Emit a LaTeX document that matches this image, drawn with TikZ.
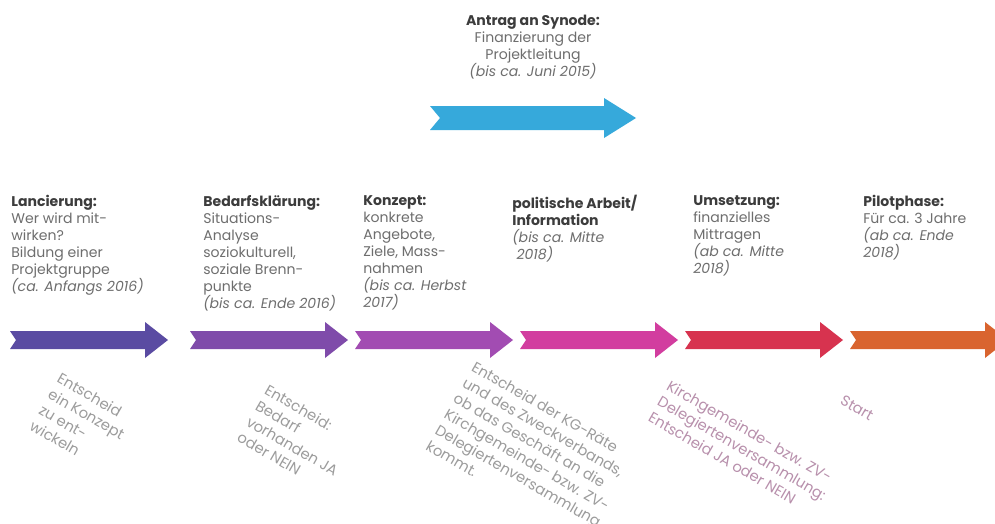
\documentclass[tikz,border=0pt]{standalone}
\usepackage{fontspec}
\setmainfont{Poppins}
\usetikzlibrary{positioning}
\definecolor{txtdark}{HTML}{3C3C3C}
\definecolor{txtgray}{HTML}{6E6E6E}
\definecolor{notegray}{HTML}{9C9C9C}
\definecolor{notepink}{HTML}{B890AC}
\definecolor{arrA}{HTML}{5A4BA2}
\definecolor{arrB}{HTML}{7F4BAA}
\definecolor{arrC}{HTML}{A24CB2}
\definecolor{arrD}{HTML}{D23D9F}
\definecolor{arrE}{HTML}{D7334F}
\definecolor{arrF}{HTML}{D9642F}
\definecolor{arrTop}{HTML}{36A9DB}

\begin{document}
\begin{tikzpicture}[x=0.02cm,y=-0.02cm,
  phase/.style={anchor=north west, align=left, inner sep=0pt, text=txtgray,
    font=\fontsize{8}{9.7}\selectfont},
  note/.style={align=left, inner sep=0pt, text=notegray, rotate=-30,
    font=\fontsize{8.4}{10.4}\selectfont}]
  \clip (0,0) rectangle (995,524);
  \fill[white] (0,0) rectangle (995,524);
  \fill[arrTop] (430,106)--(604,106)--(604,98)--(636,118)--(604,138)--(604,130)
  --(430,130)--(440,118)--cycle;
  \foreach \xa/\col in {10/arrA,190/arrB,355/arrC,520/arrD,685/arrE,850/arrF}
  \fill[\col] (\xa,331)--(\xa+135,331)--(\xa+135,322)--(\xa+158,340)
  --(\xa+135,358)--(\xa+135,349)--(\xa,349)--(\xa+6,340)--cycle;
  \node[phase, anchor=north, align=center] (synode) at (533,15)
  {{\bfseries\color{txtdark}Antrag an Synode:}\\Finanzierung der\\Projektleitung\\
  \textit{(bis ca. Juni 2015)}};
  \node[phase] (lanc) at (11,195) {{\bfseries\color{txtdark}Lancierung:}\\Wer wird mit-\\
  wirken?\\Bildung einer\\Projektgruppe\\\textit{(ca. Anfangs 2016)}};
  \node[phase] (bedarf) at (203,195) {{\bfseries\color{txtdark}Bedarfsklärung:}\\
  Situations-\\Analyse\\soziokulturell,\\soziale Brenn-\\punkte\\
  \textit{(bis ca. Ende 2016)}};
  \node[phase] (konzept) at (363,195) {{\bfseries\color{txtdark}Konzept:}\\konkrete\\
  Angebote,\\Ziele, Mass-\\nahmen\\\textit{(bis ca. Herbst}\\\textit{2017)}};
  \node[phase] (politik) at (512,195) {{\bfseries\color{txtdark}politische Arbeit/}\\
  {\bfseries\color{txtdark}Information}\\\textit{(bis ca. Mitte}\\\textit{\ 2018)}};
  \node[phase] (umsetz) at (693,195) {{\bfseries\color{txtdark}Umsetzung:}\\
  finanzielles\\Mittragen\\\textit{(ab ca. Mitte}\\\textit{2018)}};
  \node[phase] (pilot) at (863,195) {{\bfseries\color{txtdark}Pilotphase:}\\
  Für ca. 3 Jahre\\\textit{(ab ca. Ende}\\\textit{2018)}};
  \node[note] (entA) at (82,422) {Entscheid\\ein Konzept\\zu ent-\\wickeln};
  \node[note] (entB) at (297,438) {Entscheid:\\Bedarf\\vorhanden JA\\oder NEIN};
  \node[note] (entC) at (532,452) {Entscheid der KG-Räte\\und des Zweckverbands,\\
  ob das Geschäft an die\\Kirchgemeinde- bzw. ZV-\\Delegiertenversammlung\\kommt.};
  \node[note, text=notepink] (entD) at (742,448) {Kirchgemeinde- bzw. ZV-\\
  Delegiertenversammlung:\\Entscheid JA oder NEIN};
  \node[note, text=notepink] (start) at (857,408) {Start};
\end{tikzpicture}
\end{document}
